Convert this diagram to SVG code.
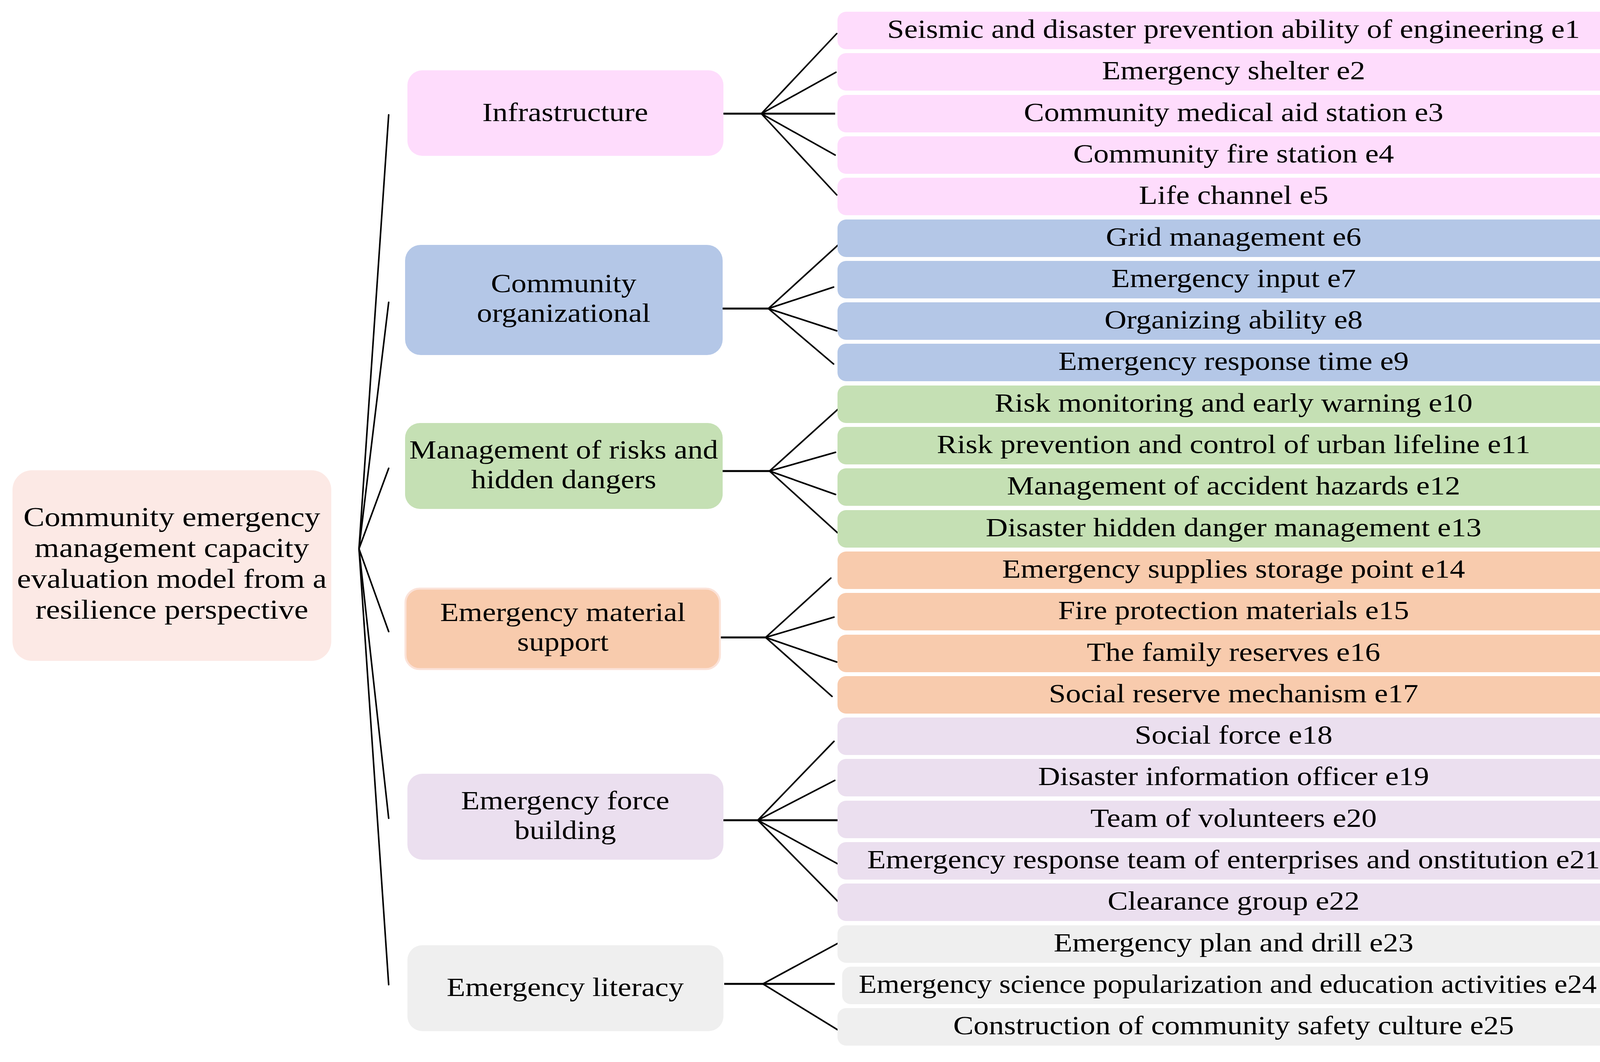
<svg xmlns="http://www.w3.org/2000/svg" width="4203" height="2719" viewBox="0 0 4203 2719">
<style>
text{font-family:"Liberation Serif","DejaVu Serif",serif;font-size:67px;fill:#000;text-anchor:middle;transform-box:fill-box;transform-origin:center;transform:scaleX(1.164)}
.rt{font-size:69.5px}
.nx{transform:scaleX(1.122)}
.ln{stroke:#000;stroke-width:4;fill:none;stroke-linecap:round}
.hz{stroke:#000;stroke-width:5;fill:none}
.root{fill:#FCE9E5}
.c1{fill:#FEDCFC}
.c2{fill:#B4C7E7}
.c3{fill:#C5E0B4}
.c4{fill:#F8CBAD}
.c5{fill:#EBDFEF}
.c6{fill:#EFEFEF}
</style>
<rect width="4203" height="2719" fill="#fff"/>
<g id="connectors">
<line class="ln" x1="919" y1="1405" x2="995" y2="294"/>
<line class="ln" x1="919" y1="1405" x2="995" y2="774"/>
<line class="ln" x1="919" y1="1405" x2="995" y2="1199"/>
<line class="ln" x1="919" y1="1405" x2="995" y2="1617"/>
<line class="ln" x1="919" y1="1405" x2="995" y2="2095"/>
<line class="ln" x1="919" y1="1405" x2="995" y2="2521"/>
<line class="hz" x1="1852" y1="291" x2="2138" y2="291"/>
<line class="ln" x1="1949" y1="291" x2="2142" y2="86"/>
<line class="ln" x1="1949" y1="291" x2="2140" y2="185"/>
<line class="ln" x1="1949" y1="291" x2="2138" y2="397"/>
<line class="ln" x1="1949" y1="291" x2="2142" y2="499"/>
<line class="hz" x1="1850" y1="790" x2="1967" y2="790"/>
<line class="ln" x1="1967" y1="790" x2="2148" y2="625"/>
<line class="ln" x1="1967" y1="790" x2="2134" y2="735"/>
<line class="ln" x1="1967" y1="790" x2="2142" y2="847"/>
<line class="ln" x1="1967" y1="790" x2="2134" y2="932"/>
<line class="hz" x1="1850" y1="1206" x2="1970" y2="1206"/>
<line class="ln" x1="1970" y1="1206" x2="2146" y2="1047"/>
<line class="ln" x1="1970" y1="1206" x2="2139" y2="1158"/>
<line class="ln" x1="1970" y1="1206" x2="2139" y2="1266"/>
<line class="ln" x1="1970" y1="1206" x2="2144" y2="1364"/>
<line class="hz" x1="1843" y1="1632" x2="1960" y2="1632"/>
<line class="ln" x1="1960" y1="1632" x2="2127" y2="1480"/>
<line class="ln" x1="1960" y1="1632" x2="2135" y2="1580"/>
<line class="ln" x1="1960" y1="1632" x2="2142" y2="1695"/>
<line class="ln" x1="1960" y1="1632" x2="2130" y2="1783"/>
<line class="hz" x1="1852" y1="2100" x2="2145" y2="2100"/>
<line class="ln" x1="1940" y1="2100" x2="2135" y2="1898"/>
<line class="ln" x1="1940" y1="2100" x2="2137" y2="1998"/>
<line class="ln" x1="1940" y1="2100" x2="2147" y2="2213"/>
<line class="ln" x1="1940" y1="2100" x2="2145" y2="2308"/>
<line class="hz" x1="1854" y1="2519" x2="2137" y2="2519"/>
<line class="ln" x1="1953" y1="2519" x2="2145" y2="2415"/>
<line class="ln" x1="1953" y1="2519" x2="2145" y2="2637"/>
</g>
<g id="root">
<rect class="root" x="32" y="1204" width="816" height="488" rx="50"/>
<text class="rt" x="440" y="1347">Community emergency</text>
<text class="rt" x="440" y="1426">management capacity</text>
<text class="rt" x="440" y="1505">evaluation model from a</text>
<text class="rt" x="440" y="1584">resilience perspective</text>
</g>
<g id="n-infrastructure">
<rect class="c1" x="1043" y="180" width="809" height="219" rx="38"/>
<text x="1447" y="310">Infrastructure</text>
</g>
<g id="n-community">
<rect class="c2" x="1037" y="627" width="813" height="282" rx="40"/>
<text x="1443" y="748">Community</text>
<text x="1443" y="824">organizational</text>
</g>
<g id="n-management">
<rect class="c3" x="1037" y="1083" width="813" height="220" rx="38"/>
<text x="1443" y="1174">Management of risks and</text>
<text x="1443" y="1250">hidden dangers</text>
</g>
<g id="n-material">
<rect class="c4" x="1038" y="1507" width="805" height="206" rx="36" stroke="#FBE2D8" stroke-width="5"/>
<text x="1441" y="1590">Emergency material</text>
<text x="1441" y="1666">support</text>
</g>
<g id="n-force">
<rect class="c5" x="1043" y="1981" width="809" height="220" rx="38"/>
<text x="1447" y="2072">Emergency force</text>
<text x="1447" y="2148">building</text>
</g>
<g id="n-literacy">
<rect class="c6" x="1043" y="2420" width="809" height="220" rx="38"/>
<text x="1447" y="2550">Emergency literacy</text>
</g>
<g id="e1"><rect class="c1" x="2144" y="30" width="2029" height="96" rx="22"/><text x="3158" y="97">Seismic and disaster prevention ability of engineering e1</text></g>
<g id="e2"><rect class="c1" x="2144" y="136" width="2029" height="96" rx="22"/><text x="3158" y="203">Emergency shelter e2</text></g>
<g id="e3"><rect class="c1" x="2144" y="243" width="2029" height="96" rx="22"/><text x="3158" y="310">Community medical aid station e3</text></g>
<g id="e4"><rect class="c1" x="2144" y="349" width="2029" height="96" rx="22"/><text x="3158" y="416">Community fire station e4</text></g>
<g id="e5"><rect class="c1" x="2144" y="455" width="2029" height="96" rx="22"/><text x="3158" y="522">Life channel e5</text></g>
<g id="e6"><rect class="c2" x="2144" y="562" width="2029" height="96" rx="22"/><text x="3158" y="629">Grid management e6</text></g>
<g id="e7"><rect class="c2" x="2144" y="668" width="2029" height="96" rx="22"/><text x="3158" y="735">Emergency input e7</text></g>
<g id="e8"><rect class="c2" x="2144" y="774" width="2029" height="96" rx="22"/><text x="3158" y="841">Organizing ability e8</text></g>
<g id="e9"><rect class="c2" x="2144" y="880" width="2029" height="96" rx="22"/><text x="3158" y="947">Emergency response time e9</text></g>
<g id="e10"><rect class="c3" x="2144" y="987" width="2029" height="96" rx="22"/><text x="3158" y="1054">Risk monitoring and early warning e10</text></g>
<g id="e11"><rect class="c3" x="2144" y="1093" width="2029" height="96" rx="22"/><text x="3158" y="1160">Risk prevention and control of urban lifeline e11</text></g>
<g id="e12"><rect class="c3" x="2144" y="1199" width="2029" height="96" rx="22"/><text x="3158" y="1266">Management of accident hazards e12</text></g>
<g id="e13"><rect class="c3" x="2144" y="1306" width="2029" height="96" rx="22"/><text x="3158" y="1373">Disaster hidden danger management e13</text></g>
<g id="e14"><rect class="c4" x="2144" y="1412" width="2029" height="96" rx="22"/><text x="3158" y="1479">Emergency supplies storage point e14</text></g>
<g id="e15"><rect class="c4" x="2144" y="1518" width="2029" height="96" rx="22"/><text x="3158" y="1585">Fire protection materials e15</text></g>
<g id="e16"><rect class="c4" x="2144" y="1625" width="2029" height="96" rx="22"/><text x="3158" y="1692">The family reserves e16</text></g>
<g id="e17"><rect class="c4" x="2144" y="1731" width="2029" height="96" rx="22"/><text x="3158" y="1798">Social reserve mechanism e17</text></g>
<g id="e18"><rect class="c5" x="2144" y="1837" width="2029" height="96" rx="22"/><text x="3158" y="1904">Social force e18</text></g>
<g id="e19"><rect class="c5" x="2144" y="1943" width="2029" height="96" rx="22"/><text x="3158" y="2010">Disaster information officer e19</text></g>
<g id="e20"><rect class="c5" x="2144" y="2050" width="2029" height="96" rx="22"/><text x="3158" y="2117">Team of volunteers e20</text></g>
<g id="e21"><rect class="c5" x="2144" y="2156" width="2029" height="96" rx="22"/><text x="3158" y="2223">Emergency response team of enterprises and onstitution e21</text></g>
<g id="e22"><rect class="c5" x="2144" y="2262" width="2029" height="96" rx="22"/><text x="3158" y="2329">Clearance group e22</text></g>
<g id="e23"><rect class="c6" x="2144" y="2369" width="2029" height="96" rx="22"/><text x="3158" y="2436">Emergency plan and drill e23</text></g>
<g id="e24"><rect class="c6" x="2156" y="2475" width="2030" height="96" rx="22"/><text class="nx" x="3143" y="2542">Emergency science popularization and education activities e24</text></g>
<g id="e25"><rect class="c6" x="2144" y="2581" width="2029" height="96" rx="22"/><text x="3158" y="2648">Construction of community safety culture e25</text></g>
</svg>
